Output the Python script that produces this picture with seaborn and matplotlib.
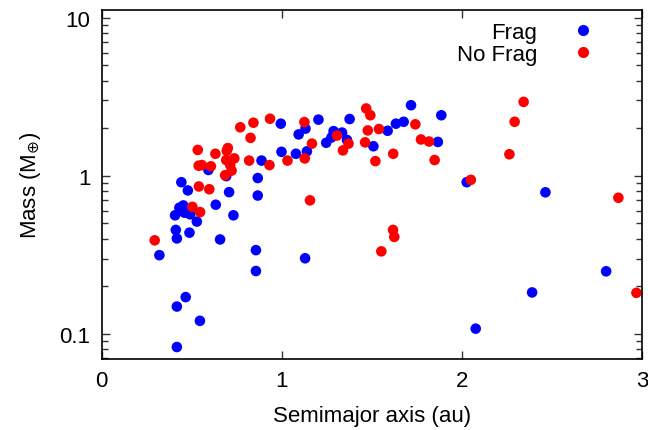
import numpy as np
import pandas as pd
import matplotlib
matplotlib.use("Agg")
import matplotlib.pyplot as plt
from matplotlib.ticker import FixedLocator, LogLocator, NullFormatter
import seaborn as sns

# ---- data ----
frag_a = [0.320, 0.407, 0.431, 0.453, 0.459, 0.491, 0.528, 0.633, 0.731, 0.411,
          0.417, 0.487, 0.657, 0.856, 0.856, 0.466, 0.417, 0.545, 0.417, 1.129,
          0.442, 0.478, 0.707, 0.866, 0.592, 0.691, 0.866, 0.887, 0.994, 1.093,
          1.131, 1.203, 0.998, 1.078, 1.139, 1.246, 1.287, 1.275, 1.334, 1.361,
          1.376, 1.508, 1.587, 1.633, 1.676, 1.717, 1.885, 1.866, 2.026, 2.463,
          2.800, 2.389, 2.076]
frag_m = [0.315, 0.563, 0.629, 0.650, 0.585, 0.571, 0.514, 0.657, 0.563, 0.455,
          0.402, 0.437, 0.396, 0.339, 0.250, 0.171, 0.149, 0.121, 0.0826, 0.301,
          0.912, 0.809, 0.789, 0.751, 1.09, 0.997, 0.969, 1.25, 2.14, 1.83,
          1.99, 2.27, 1.42, 1.38, 1.43, 1.62, 1.92, 1.75, 1.88, 1.69,
          2.29, 1.54, 1.93, 2.14, 2.20, 2.80, 2.42, 1.64, 0.912, 0.787,
          0.249, 0.183, 0.108]

nofrag_a = [0.294, 0.503, 0.546, 0.539, 0.597, 0.533, 0.631, 0.700, 0.694, 0.736,
            0.691, 0.538, 0.556, 0.606, 0.713, 0.721, 0.685, 0.769, 0.842, 0.934,
            0.826, 0.818, 0.931, 1.031, 1.125, 1.167, 1.127, 1.156, 1.306, 1.370,
            1.339, 1.468, 1.491, 1.477, 1.539, 1.462, 1.519, 1.618, 1.741, 1.772,
            1.817, 1.848, 2.049, 2.263, 2.292, 2.342, 2.868, 2.968, 1.617, 1.624,
            1.552]
nofrag_m = [0.391, 0.637, 0.590, 0.857, 0.823, 1.46, 1.38, 1.50, 1.44, 1.29,
            1.26, 1.16, 1.17, 1.15, 1.17, 1.08, 1.01, 2.03, 2.17, 2.30,
            1.74, 1.25, 1.17, 1.25, 2.19, 1.60, 1.29, 0.700, 1.80, 1.60,
            1.45, 2.67, 2.42, 1.94, 1.98, 1.63, 1.24, 1.38, 2.12, 1.70,
            1.65, 1.26, 0.944, 1.37, 2.20, 2.94, 0.727, 0.182, 0.455, 0.411,
            0.333]

groups = ["Frag", "No Frag"]
colors = {"Frag": "#0000ff", "No Frag": "#ff0000"}
x_ticks = [0, 1, 2, 3]
y_ticks = [0.1, 1, 10]
y_ticklabels = ["0.1", "1", "10"]

df = pd.DataFrame({
    "a": frag_a + nofrag_a,
    "m": frag_m + nofrag_m,
    "group": ["Frag"] * len(frag_a) + ["No Frag"] * len(nofrag_a),
})

sns.set_style("ticks")
plt.rcParams["font.family"] = ["Liberation Sans", "DejaVu Sans"]
plt.rcParams["text.color"] = "black"
plt.rcParams["axes.labelcolor"] = "black"
plt.rcParams["xtick.labelcolor"] = "black"
plt.rcParams["ytick.labelcolor"] = "black"

fig = plt.figure(figsize=(6.48, 4.31), dpi=100)
ax = fig.add_axes([0.157, 0.165, 0.834, 0.810])

sns.scatterplot(data=df, x="a", y="m", hue="group", hue_order=groups,
                palette=colors, s=58, linewidth=0, alpha=1, ax=ax, legend=True)

ax.set_yscale("log")
ax.set_xlim(0, 3)
ax.set_ylim(0.0695, 11.25)
ax.xaxis.set_major_locator(FixedLocator(x_ticks))
ax.set_xticklabels([str(t) for t in x_ticks])
ax.yaxis.set_major_locator(FixedLocator(y_ticks))
ax.set_yticklabels(y_ticklabels)
ax.yaxis.set_minor_locator(LogLocator(base=10, subs=np.arange(2, 10)))
ax.yaxis.set_minor_formatter(NullFormatter())
ax.xaxis.set_minor_locator(FixedLocator([]))

ax.tick_params(axis="both", which="major", direction="in", length=6, width=1,
               labelsize=16, top=True, right=True, color="#333333", pad=8,
               labelcolor="black")
ax.tick_params(axis="y", which="minor", direction="in", length=4, width=1,
               right=True, color="#333333")
for sp in ax.spines.values():
    sp.set_linewidth(1.2)
    sp.set_color("black")

ax.set_xlabel("Semimajor axis (au)", fontsize=16, labelpad=10, color="black")
ax.set_ylabel(r"Mass (M$_{\oplus}$)", fontsize=16, labelpad=12, color="black")

leg = ax.legend(loc="upper right", bbox_to_anchor=(0.956, 1.004), frameon=False,
                markerfirst=False, fontsize=16, handletextpad=1.05,
                labelspacing=0.05, borderaxespad=0.2)
for h in leg.legend_handles:
    h.set_markersize(8)
for t in leg.get_texts():
    t.set_color("black")

fig.savefig("out.png", dpi=100)
